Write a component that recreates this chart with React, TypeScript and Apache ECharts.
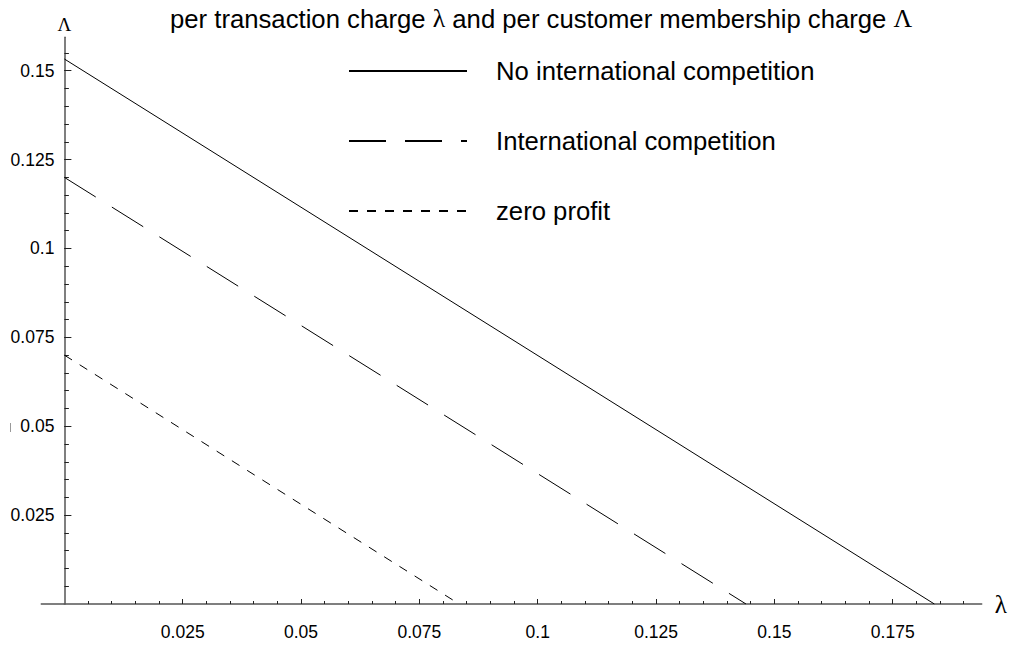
import React, { useEffect, useRef } from "react";
import * as echarts from "echarts";

const titleText =
  "per transaction charge {g|λ} and per customer membership charge {g|Λ}";
const xAxisName = "λ";
const yAxisName = "Λ";

const seriesNames = [
  "No international competition",
  "International competition",
  "zero profit",
];

// [λ, Λ] end points of each straight line
const noInternational: [number, number][] = [
  [0, 0.1533],
  [0.1838, 0],
];
const international: [number, number][] = [
  [0, 0.12],
  [0.144, 0],
];
const zeroProfit: [number, number][] = [
  [0, 0.07],
  [0.0834, 0],
];

const xMajorTicks = [0.025, 0.05, 0.075, 0.1, 0.125, 0.15, 0.175];
const xTickLabels = ["0.025", "0.05", "0.075", "0.1", "0.125", "0.15", "0.175"];
const yMajorTicks = [0.025, 0.05, 0.075, 0.1, 0.125, 0.15];
const yTickLabels = ["0.025", "0.05", "0.075", "0.1", "0.125", "0.15"];

const xMin = 0;
const xMax = 0.1938;
const xAxisLeftOverhang = -0.005; // axis line continues a little left of the origin
const yMin = 0;
const yMax = 0.1594;

const minorStep = 0.005;
const xMinorTicks: number[] = [];
for (let i = 1; i <= 38; i++) xMinorTicks.push(+(i * minorStep).toFixed(4));
const yMinorTicks: number[] = [];
for (let i = 1; i <= 31; i++) yMinorTicks.push(+(i * minorStep).toFixed(4));

const SANS = "'Liberation Sans', Arial, sans-serif";
const SERIF = "'Liberation Serif', 'Times New Roman', serif";
const AXIS_COLOR = "#555";

function labelFor(v: number, ticks: number[], labels: string[]) {
  for (let i = 0; i < ticks.length; i++) {
    if (Math.abs(ticks[i] - v) < 1e-9) return labels[i];
  }
  return "";
}

export default function App() {
  const ref = useRef<HTMLDivElement>(null);

  useEffect(() => {
    if (!ref.current) return;
    const chart = echarts.init(ref.current, undefined, { renderer: "svg" });

    const dashLong = [37, 19];
    const dashShort = [9, 9];

    const option: any = {
      animation: false,
      backgroundColor: "#fff",
      title: {
        text: titleText,
        left: 170,
        top: 4,
        padding: 0,
        textStyle: {
          fontFamily: SANS,
          fontSize: 25.7,
          fontWeight: "normal",
          color: "#000",
          lineHeight: 29,
          rich: {
            g: {
              fontFamily: SERIF,
              fontSize: 25.7,
              color: "#000",
              lineHeight: 29,
            },
          },
        },
      },
      legend: {
        orient: "vertical",
        left: 348,
        top: 56,
        padding: 0,
        itemWidth: 118,
        itemHeight: 14,
        itemGap: 40,
        selectedMode: false,
        data: seriesNames,
        itemStyle: { opacity: 0, borderWidth: 0 },
        textStyle: {
          fontFamily: SANS,
          fontSize: 25.7,
          color: "#000",
          lineHeight: 30,
          padding: [0, 0, 0, 24],
        },
      },
      grid: {
        left: 64.4,
        right: 31.3,
        top: 37.3,
        bottom: 42,
        containLabel: false,
        outerBoundsMode: "none",
      },
      xAxis: [
        {
          type: "value",
          min: xMin,
          max: xMax,
          position: "bottom",
          name: xAxisName,
          nameLocation: "end",
          nameGap: 13,
          nameTextStyle: { fontFamily: SERIF, fontSize: 25, color: "#000" },
          axisLine: {
            onZero: false,
            lineStyle: { color: AXIS_COLOR, width: 1.5 },
          },
          axisTick: {
            inside: true,
            length: 5,
            customValues: xMajorTicks,
            lineStyle: { color: "#222", width: 1 },
          },
          axisLabel: {
            customValues: xMajorTicks,
            margin: 19,
            fontFamily: SANS,
            fontSize: 17.5,
            color: "#000",
            formatter: (v: number) => labelFor(v, xMajorTicks, xTickLabels),
          },
          splitLine: { show: false },
        },
        {
          type: "value",
          min: xMin,
          max: xMax,
          position: "bottom",
          offset: 0,
          axisLine: { show: false, onZero: false },
          axisTick: {
            inside: true,
            length: 3,
            customValues: xMinorTicks,
            lineStyle: { color: "#222", width: 1 },
          },
          axisLabel: { show: false },
          splitLine: { show: false },
        },
      ],
      yAxis: [
        {
          type: "value",
          min: yMin,
          max: yMax,
          position: "left",
          name: yAxisName,
          nameLocation: "end",
          nameGap: 3,
          nameTextStyle: { fontFamily: SERIF, fontSize: 19, color: "#000" },
          axisLine: {
            onZero: false,
            lineStyle: { color: AXIS_COLOR, width: 1.5 },
          },
          axisTick: {
            inside: true,
            length: 7,
            customValues: yMajorTicks,
            lineStyle: { color: "#222", width: 1 },
          },
          axisLabel: {
            customValues: yMajorTicks,
            margin: 10,
            fontFamily: SANS,
            fontSize: 17.5,
            color: "#000",
            formatter: (v: number) => labelFor(v, yMajorTicks, yTickLabels),
          },
          splitLine: { show: false },
        },
        {
          type: "value",
          min: yMin,
          max: yMax,
          position: "left",
          offset: 0,
          axisLine: { show: false, onZero: false },
          axisTick: {
            inside: true,
            length: 4.5,
            customValues: yMinorTicks,
            lineStyle: { color: "#222", width: 1 },
          },
          axisLabel: { show: false },
          splitLine: { show: false },
        },
      ],
      series: [
        {
          name: seriesNames[0],
          type: "line",
          data: noInternational,
          symbol: "none",
          silent: true,
          itemStyle: { color: "#000" },
          lineStyle: { color: "#000", width: 1, type: "solid" },
        },
        {
          name: seriesNames[1],
          type: "line",
          data: international,
          symbol: "none",
          silent: true,
          itemStyle: { color: "#000" },
          lineStyle: { color: "#000", width: 1, type: dashLong },
        },
        {
          name: seriesNames[2],
          type: "line",
          data: zeroProfit,
          symbol: "none",
          silent: true,
          itemStyle: { color: "#000" },
          lineStyle: { color: "#000", width: 1, type: dashShort },
        },
      ],
    };

    chart.setOption(option);

    // extend the x axis line a little to the left of the origin, using the axis scale
    const p0 = chart.convertToPixel({ xAxisIndex: 0 }, 0) as number;
    const pL = chart.convertToPixel({ xAxisIndex: 0 }, xAxisLeftOverhang) as number;
    const py = chart.convertToPixel({ yAxisIndex: 0 }, 0) as number;
    chart.setOption({
      graphic: [
        {
          type: "line",
          silent: true,
          shape: { x1: pL, y1: py, x2: p0, y2: py },
          style: { stroke: AXIS_COLOR, lineWidth: 1.5 },
        },
        {
          type: "line",
          silent: true,
          shape: { x1: 10.5, y1: 423, x2: 10.5, y2: 432 },
          style: { stroke: "#999", lineWidth: 1 },
        },
      ],
    });

    return () => chart.dispose();
  }, []);

  return (
    <div
      ref={ref}
      style={{
        position: "fixed",
        left: 0,
        top: 0,
        width: 1013,
        height: 646,
        background: "#fff",
      }}
    />
  );
}
